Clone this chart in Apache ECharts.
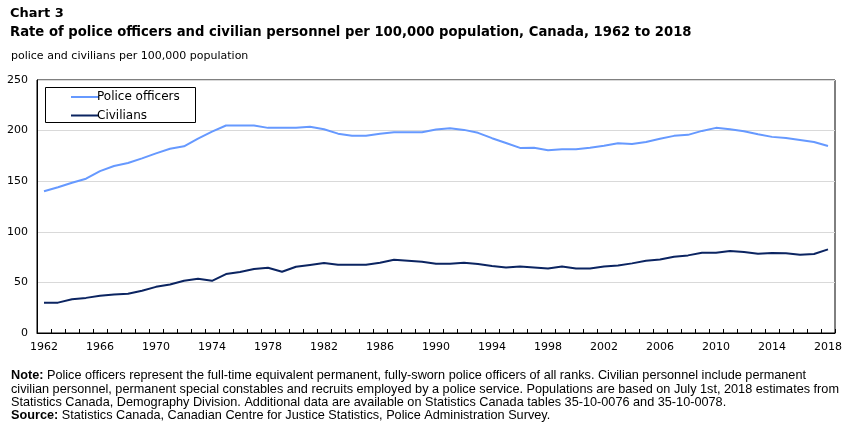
<!DOCTYPE html>
<html>
<head>
<meta charset="utf-8">
<script src="https://cdn.jsdelivr.net/npm/echarts@6/dist/echarts.min.js"></script>
<style>
  html, body { margin: 0; padding: 0; background: #fff; }
  #chart { width: 852px; height: 426px; }
</style>
</head>
<body>
<div id="chart"></div>
<script>
var years = [];
for (var y = 1962; y <= 2018; y++) years.push(String(y));

var policeOfficers = [
  140, 144, 148.5, 152.5, 160, 165, 168, 172.6, 177.5, 182,
  184.5, 192, 199, 205, 205, 205, 202.7, 202.7, 202.7, 203.7,
  201.4, 197, 195, 195, 197, 198.4, 198.4, 198.4, 201, 202.4,
  200.7, 197.8, 192.5, 187.8, 182.9, 183, 180.5, 181.5, 181.5, 183,
  185, 187.5, 186.8, 188.8, 192, 194.8, 195.8, 199.7, 202.7, 201.4,
  199.4, 196.4, 193.8, 192.8, 190.8, 188.8, 184.8
];

var civilians = [
  29.8, 30, 33.4, 34.7, 36.7, 38, 38.7, 41.7, 45.6, 48,
  51.6, 53.6, 51.6, 58.2, 60.2, 63.2, 64.5, 60.5, 65.5, 67.3,
  69.1, 67.5, 67.5, 67.5, 69.4, 72.4, 71.4, 70.4, 68.5, 68.5,
  69.4, 68.1, 66.1, 64.8, 65.8, 64.8, 63.8, 65.8, 63.8, 63.8,
  65.8, 66.8, 68.8, 71.4, 72.7, 75.4, 76.7, 79.4, 79.4, 81,
  80, 78.4, 79, 78.7, 77.4, 78, 82.6
];

var titleText = 'Chart 3';
var subtitleText = 'Rate of police officers and civilian personnel per 100,000 population, Canada, 1962 to 2018';
var unitText = 'police and civilians per 100,000 population';
var noteLines = [
  '{b|Note:} Police officers represent the full-time equivalent permanent, fully-sworn police officers of all ranks. Civilian personnel include permanent',
  'civilian personnel, permanent special constables and recruits employed by a police service. Populations are based on July 1st, 2018 estimates from',
  'Statistics Canada, Demography Division. Additional data are available on Statistics Canada tables 35-10-0076 and 35-10-0078.',
  '{b|Source:} Statistics Canada, Canadian Centre for Justice Statistics, Police Administration Survey.'
];

var chartDom = document.getElementById('chart');
var myChart = echarts.init(chartDom);
var option;

var FONT = '"DejaVu Sans", Verdana, sans-serif';
var NOTE_FONT = '"Liberation Sans", Arial, sans-serif';

option = {
  animation: false,
  textStyle: { fontFamily: FONT },
  title: [
    {
      text: titleText,
      left: 5, top: 2,
      textStyle: { fontSize: 13, fontWeight: 'bold', color: '#000', fontFamily: FONT }
    },
    {
      text: subtitleText,
      left: 5, top: 21,
      textStyle: { fontSize: 13.2, fontWeight: 'bold', color: '#000', fontFamily: FONT }
    },
    {
      text: unitText,
      left: 6, top: 46,
      textStyle: { fontSize: 11, fontWeight: 'normal', color: '#000', fontFamily: FONT }
    },
    {
      text: noteLines.join('\n'),
      left: 6, top: 364,
      textStyle: {
        fontSize: 12.7, fontWeight: 'normal', color: '#000', fontFamily: NOTE_FONT,
        lineHeight: 13.4,
        rich: { b: { fontWeight: 'bold', fontSize: 12.7, fontFamily: NOTE_FONT, color: '#000' } }
      }
    }
  ],
  graphic: [
    {
      type: 'rect',
      shape: { x: 45.5, y: 87.5, width: 150, height: 35 },
      style: { fill: '#fff', stroke: '#000', lineWidth: 1 },
      z: 10
    }
  ],
  legend: {
    data: ['Police officers', 'Civilians'],
    orient: 'vertical',
    left: 66, top: 86,
    itemWidth: 28, itemHeight: 12, itemGap: 6.5,
    icon: 'path://M0,0 L28,0 L28,2 L0,2 Z',
    textStyle: { fontSize: 12, color: '#000', fontFamily: FONT, padding: [0, 0, 0, -7] },
    z: 11
  },
  grid: {
    left: 37, right: 17, top: 80, bottom: 93,
    show: true, borderColor: '#000', borderWidth: 1,
    containLabel: false
  },
  xAxis: {
    type: 'category',
    data: years,
    boundaryGap: true,
    axisLine: { lineStyle: { color: '#000', width: 1 } },
    axisTick: { show: true, inside: true, length: 4, interval: 0, lineStyle: { color: '#000' } },
    axisLabel: { interval: 3, fontSize: 11, color: '#000', margin: 9, fontFamily: FONT }
  },
  yAxis: {
    type: 'value',
    min: 0, max: 250, interval: 50,
    axisLine: { show: true, lineStyle: { color: '#000', width: 1 } },
    axisTick: { show: false },
    axisLabel: { fontSize: 11, color: '#000', margin: 9, fontFamily: FONT },
    splitLine: { lineStyle: { color: '#d9d9d9', width: 1 } }
  },
  series: [
    {
      name: 'Police officers',
      type: 'line',
      data: policeOfficers,
      symbol: 'none',
      itemStyle: { color: '#6699ff' },
      lineStyle: { color: '#6699ff', width: 2 }
    },
    {
      name: 'Civilians',
      type: 'line',
      data: civilians,
      symbol: 'none',
      itemStyle: { color: '#0b2461' },
      lineStyle: { color: '#0b2461', width: 2 }
    }
  ]
};

option && myChart.setOption(option);
</script>
</body>
</html>
